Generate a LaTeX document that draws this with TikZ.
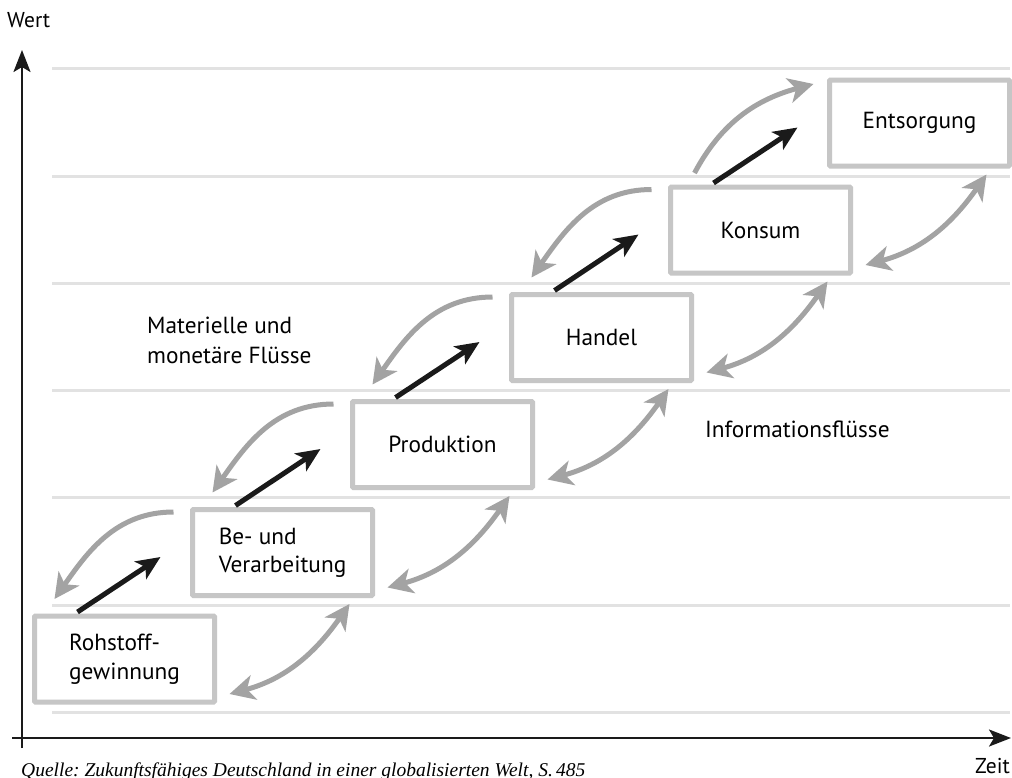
\documentclass[tikz,border=0pt]{standalone}
\usepackage{fontspec}
\setmainfont{PT Sans}
\newfontfamily\quellefont{Liberation Serif}
\usetikzlibrary{arrows.meta,calc}
\definecolor{boxgray}{RGB}{198,198,198}
\definecolor{arrgray}{RGB}{163,163,163}
\definecolor{gridgray}{RGB}{226,226,226}
\definecolor{blk}{RGB}{26,26,26}
\frenchspacing
\begin{document}
\begin{tikzpicture}[x=1pt,y=1pt,
  box/.style={draw=boxgray, line width=5pt, fill=white, rounded corners=1pt,
    minimum width=180pt, minimum height=86pt, align=left, inner sep=0pt,
    font=\fontsize{23.3}{28.5}\selectfont},
  lbl/.style={align=left, inner sep=0pt, font=\fontsize{23.3}{30}\selectfont},
  axlbl/.style={inner sep=0pt, font=\fontsize{21.5}{22}\selectfont},
  gridline/.style={draw=gridgray, line width=3pt},
  axis/.style={draw=blk, line width=2.5pt, -{Stealth[length=22pt,width=17pt,inset=5pt]}},
  flowarrow/.style={draw=blk, line width=5pt, -{Stealth[length=24pt,width=21pt,inset=6pt]}},
  backarrow/.style={draw=arrgray, line width=5pt, -{Stealth[length=25pt,width=25pt,inset=7pt]}},
  infoarrow/.style={draw=arrgray, line width=5pt, {Stealth[length=25pt,width=25pt,inset=7pt]}-{Stealth[length=25pt,width=25pt,inset=7pt]}}
]
\useasboundingbox (0,0) rectangle (1012,-777);
\fill[white] (0,0) rectangle (1012,-777);

% grid lines
\foreach \yy in {68,176,283,390,497,605,712}
  \draw[gridline] (52,-\yy) -- (1010,-\yy);

% axes
\coordinate (ybot) at (22,-748);
\coordinate (ytop) at (22,-50);
\coordinate (xleft) at (12,-738);
\coordinate (xright) at (1011,-738);
\draw[axis] (ybot) -- (ytop);
\draw[axis] (xleft) -- (xright);
\node[axlbl, anchor=base west] (wert) at (7,-27) {Wert};
\node[axlbl, anchor=base east] (zeit) at (1010,-773) {Zeit};
\node[inner sep=0pt, anchor=base west, font=\quellefont\itshape\fontsize{19.5}{20}\selectfont] (quelle) at (21,-776)
  {Quelle: Zukunftsfähiges Deutschland in einer globalisierten Welt, S.\,485};

% boxes
\node[box] (R) at (124.5,-659) {Rohstoff-\\gewinnung};
\node[box] (B) at (282.5,-552.5) {Be- und\\Verarbeitung};
\node[box] (P) at (442.5,-444.5) {Produktion};
\node[box] (H) at (601.5,-337.5) {Handel};
\node[box] (K) at (760.5,-230) {Konsum};
\node[box] (E) at (919.5,-123) {Entsorgung};

% labels
\node[lbl, anchor=west] (mat) at (147,-340) {Materielle und\\monetäre Flüsse};
\node[lbl, anchor=base west] (info) at (705,-437) {Informationsflüsse};

% black flow arrows
\foreach \a/\b in {R/B,B/P,P/H,H/K,K/E}
  \draw[flowarrow] ($(\a.center)+(-47,47)$) -- ($(\b.center)+(-122,-4.5)$);

% grey backward arrows
\foreach \u/\l in {B/R,P/B,H/P,K/H}
  \draw[backarrow] ($(\u.center)+(-109,40.5)$) to[out=180,in=55] ($(\l.center)+(-70,60)$);

% grey forward arrow to Entsorgung
\draw[backarrow] ($(K.center)+(-66,57)$) to[out=62,in=195] ($(E.center)+(-106,39)$);

% information flows
\foreach \l/\u in {R/B,B/P,P/H,H/K,K/E}
  \draw[infoarrow] ($(\l.center)+(105,-35)$) to[out=15,in=235] ($(\u.center)+(67,-51.5)$);
\end{tikzpicture}
\end{document}
